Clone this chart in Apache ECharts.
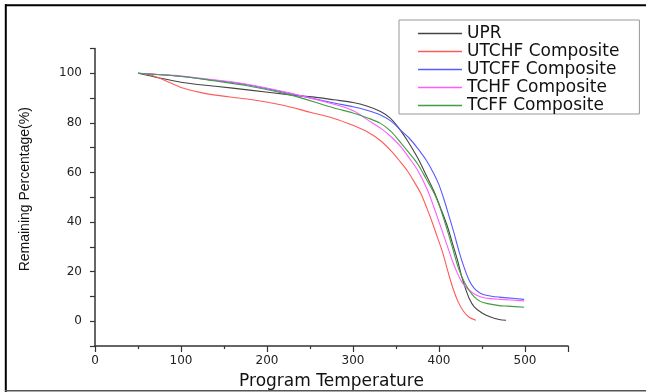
<!DOCTYPE html>
<html>
<head>
<meta charset="utf-8">
<script src="https://cdn.jsdelivr.net/npm/echarts@6/dist/echarts.min.js"></script>
<style>
html,body{margin:0;padding:0;background:#fff;}
#chart{width:646px;height:392px;}
</style>
</head>
<body>
<div id="chart"></div>
<script>
// ---- data (temperature, remaining %) ----
var seriesNames = ['UPR', 'UTCHF Composite', 'UTCFF Composite', 'TCHF Composite', 'TCFF Composite'];
var xTickLabels = [0, 100, 200, 300, 400, 500];
var yTickLabels = [0, 20, 40, 60, 80, 100];

var uprData = [[50,100],[75,98.1],[100,96.4],[122,95.4],[140,94.8],[180,93.2],[227,91.3],[260,90.2],[278,89.3],[300,88.2],[316,86.8],[332,84.6],[343,82],[352,78.5],[363,73],[375,66],[385,59],[394,52.5],[402,45.5],[410,38],[416,31],[421.5,24.6],[426,18.5],[430,14],[435,9.3],[441,5.8],[450,3.3],[460,1.7],[470,0.7],[478,0.4]];
var utchfData = [[50,100],[62,99.6],[80,97.3],[100,94.3],[122,92.3],[140,91.2],[177,89.6],[216,87.3],[250,84.3],[278,81.8],[300,79],[317,76.3],[332,72.8],[344,68.8],[355,64.3],[363,60.8],[371,56.3],[379,51.4],[386,45.5],[392,40],[398,34],[404,28],[410,20.5],[416,13.5],[422,8],[428,4.2],[435,1.6],[443,0.4]];
var utcffData = [[50,100],[70,99.6],[100,98.7],[138,97.2],[177,95.4],[227,91.8],[278,88],[300,86.5],[317,85],[332,83.2],[345,80.5],[355.5,77],[365,74],[375,69.8],[385,65],[394,59.5],[400,55],[406,48.9],[412,42],[417.6,35.4],[423,28.5],[429,21.9],[435,16.5],[441,13.2],[448,11.3],[456,10.4],[470,9.7],[480,9.4],[499,8.8]];
var tchfData = [[50,100],[70,99.6],[100,98.9],[138,97.4],[177,95.6],[227,92],[278,87.5],[301,84.8],[317,81.2],[332,77.9],[344,74.5],[355.5,70.4],[365,66],[375,61],[386.6,52.9],[398,42.1],[410,30],[416,24],[421.5,19.3],[427,15.5],[433,13.2],[440,11.2],[449,9.8],[460,9.1],[472,8.8],[499,8.2]];
var tcffData = [[50,100],[70,99.5],[100,98.8],[138,97],[177,95],[227,91.3],[278,86],[300,84],[317,82],[332,79.8],[345,76.3],[355.5,72],[365,68],[375,63.5],[385,57.5],[394.3,51.6],[400,47],[406,40.8],[412,34],[417.6,27.3],[423,21],[429.3,15.9],[435,12.5],[441,9.8],[448,8],[456.5,7.1],[470,6.3],[480,6.1],[499,5.6]];

var allData = [uprData, utchfData, utcffData, tchfData, tcffData];
var colors = ['#444444', '#ff5a5a', '#5a5aff', '#ff5cff', '#3f9f3f'];

var chart = echarts.init(document.getElementById('chart'), null, {renderer: 'canvas'});

var series = seriesNames.map(function (n, i) {
  return {
    name: n,
    type: 'line',
    data: allData[i],
    smooth: 0.3,
    symbol: 'none',
    showSymbol: false,
    lineStyle: {color: colors[i], width: 1.1},
    itemStyle: {color: colors[i]}
  };
});

var tickFont = {fontFamily: 'DejaVu Sans', fontSize: 12, color: '#222'};
var axisColor = '#333';

var option = {
  animation: false,
  backgroundColor: '#ffffff',
  grid: {left: 95, right: 78, top: 48.5, bottom: 46, containLabel: false, outerBoundsMode: 'none'},
  legend: {
    orient: 'vertical',
    left: 399,
    top: 20,
    padding: [5, 20, 0, 19],
    icon: 'rect',
    itemWidth: 44,
    itemHeight: 1.3,
    itemGap: 1,
    borderColor: '#999',
    borderWidth: 1,
    textStyle: {fontFamily: 'DejaVu Sans', fontSize: 17, color: '#111'},
    data: seriesNames
  },
  xAxis: {
    type: 'value',
    min: 0,
    max: 550,
    interval: 100,
    name: 'Program Temperature',
    nameLocation: 'middle',
    nameGap: 27,
    nameTextStyle: {fontFamily: 'DejaVu Sans', fontSize: 17, color: '#111'},
    splitLine: {show: false},
    axisLine: {show: true, onZero: false, lineStyle: {color: axisColor, width: 1.5}},
    axisTick: {show: true, length: 6, lineStyle: {color: axisColor, width: 1.2}},
    minorTick: {show: true, splitNumber: 2, length: 3, lineStyle: {color: axisColor, width: 1.2}},
    axisLabel: Object.assign({
      margin: 9,
      formatter: function (v) { return xTickLabels.indexOf(v) >= 0 ? String(v) : ''; }
    }, tickFont)
  },
  yAxis: {
    type: 'value',
    min: -10,
    max: 110,
    interval: 10,
    name: 'Remaining Percentage(%)',
    nameLocation: 'middle',
    nameGap: 63,
    nameTextStyle: {fontFamily: 'Liberation Sans', fontSize: 14, color: '#111', padding: [0, 0, 0, 16]},
    splitLine: {show: false},
    axisLine: {show: true, onZero: false, lineStyle: {color: axisColor, width: 1.5}},
    axisTick: {show: true, length: 5, lineStyle: {color: axisColor, width: 1.2}},
    axisLabel: Object.assign({
      margin: 13,
      formatter: function (v) { return yTickLabels.indexOf(v) >= 0 ? String(v) : ''; }
    }, tickFont)
  },
  graphic: [
    {type: 'line', shape: {x1: 5, y1: 5.2, x2: 646, y2: 5.2}, style: {stroke: '#000', lineWidth: 2}, silent: true},
    {type: 'line', shape: {x1: 5.8, y1: 4.2, x2: 5.8, y2: 392}, style: {stroke: '#000', lineWidth: 2}, silent: true},
    {type: 'line', shape: {x1: 5, y1: 390.7, x2: 646, y2: 390.7}, style: {stroke: '#555', lineWidth: 1.5}, silent: true}
  ],
  series: series
};

chart.setOption(option);
</script>
</body>
</html>
